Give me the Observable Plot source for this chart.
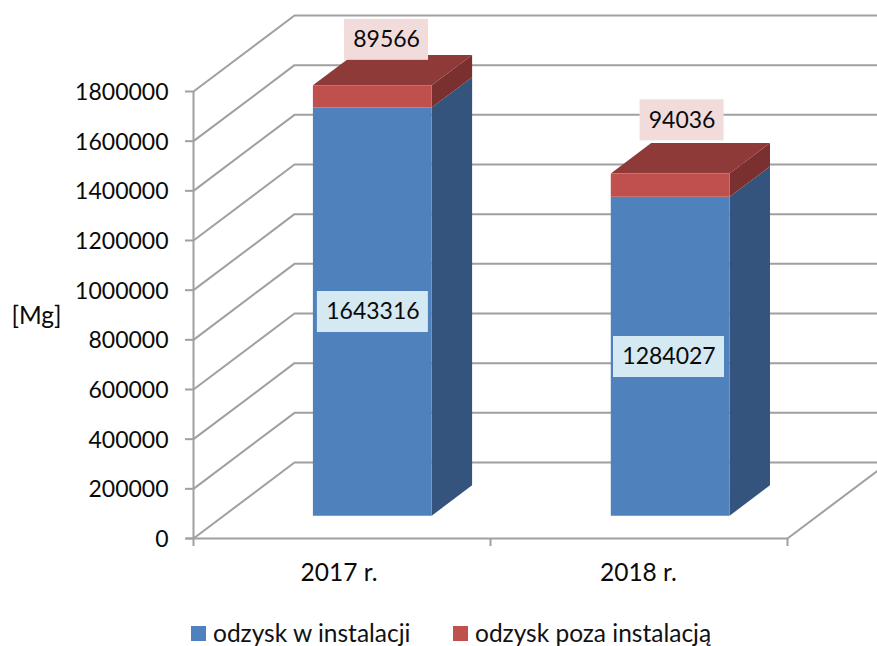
<!DOCTYPE html>
<html><head><meta charset="utf-8">
<script src="https://cdn.jsdelivr.net/npm/d3@7"></script>
<script src="https://cdn.jsdelivr.net/npm/@observablehq/plot@0.6"></script>
<style>
html,body{margin:0;padding:0;background:#fff;overflow:hidden}
#chart svg{display:block;background:#fff}
#legend{position:relative;height:36px;font:24.5px Lato,sans-serif;color:#111}
#legend span{position:absolute;white-space:nowrap}
#legend i{position:absolute;width:15px;height:15px;display:block}
</style></head><body>
<div id="chart"></div><div id="legend"></div>
<script>
const categories = ["2017 r.", "2018 r."];
const categoryCentres = [0.49, 1.498];
const seriesNames = ["odzysk w instalacji", "odzysk poza instalacją"];
const recovered = [1643316, 1284027];
const outside = [89566, 94036];
const yTicks = [0,200000,400000,600000,800000,1000000,1200000,1400000,1600000,1800000];
const barCentres = [0.5, 1.503];
const barHalf = 0.2;
const depthU = 101/297, depthV = 76/447*1800000;
const dFront = 0.3, dBack = 0.7;
const P = (u, v, d) => ({x: u + d*depthU, y: v + d*depthV});

const grid = [];
yTicks.forEach((t,i) => {
  grid.push({...P(0,t,0), id:"w"+i}, {...P(0,t,1), id:"w"+i}, {...P(2.4,t,1), id:"w"+i});
});
grid.push({...P(2,0,0), id:"f"}, {...P(2,0,1), id:"f"});

const faces = [];
const face = (id, fill, pts) => pts.forEach(p => faces.push({...p, id, fill}));
categories.forEach((c,i) => {
  const a = barCentres[i]-barHalf, b = barCentres[i]+barHalf;
  const v1 = recovered[i], v2 = v1 + outside[i];
  face(c+"sb", "#34547d", [P(b,0,dFront),P(b,0,dBack),P(b,v1,dBack),P(b,v1,dFront)]);
  face(c+"sr", "#7a302e", [P(b,v1,dFront),P(b,v1,dBack),P(b,v2,dBack),P(b,v2,dFront)]);
  face(c+"t",  "#8e3a38", [P(a,v2,dFront),P(a,v2,dBack),P(b,v2,dBack),P(b,v2,dFront)]);
  face(c+"fb", "#4f81bd", [P(a,0,dFront),P(b,0,dFront),P(b,v1,dFront),P(a,v1,dFront)]);
  face(c+"fr", "#c0504d", [P(a,v1,dFront),P(b,v1,dFront),P(b,v2,dFront),P(a,v2,dFront)]);
});

const xPer = 1/297, yPer = 1800000/447;
const labels = [
  {t:recovered[0], u:0.604, v:912000, w:111, fill:"#d5e9f3"},
  {t:recovered[1], u:1.601, v:730800, w:111, fill:"#d5e9f3"},
  {t:outside[0], u:0.65, v:2008000, w:84, fill:"#f2dcdb"},
  {t:outside[1], u:1.645, v:1684000, w:84, fill:"#f2dcdb"}
];
const H = 0.5*41*yPer;

document.getElementById("chart").append(Plot.plot({
  width: 877, height: 610,
  marginLeft: 193, marginRight: 90, marginTop: 91, marginBottom: 72,
  x: {domain:[0,2], axis:null},
  y: {domain:[0,1800000], axis:null},
  style: {fontFamily:"Lato, sans-serif", fontSize:"23px", color:"#0a0a0a"},
  marks: [
    Plot.line(grid, {x:"x", y:"y", z:"id", stroke:"#a0a0a0", strokeWidth:2}),
    Plot.ruleX([0], {stroke:"#a0a0a0", strokeWidth:2}),
    Plot.ruleY([0], {stroke:"#a0a0a0", strokeWidth:2, insetLeft:-7}),
    Plot.axisY({ticks:yTicks, text:null, tickSize:8, stroke:"#a0a0a0", strokeWidth:2, label:null}),
    Plot.axisY({ticks:yTicks, tickFormat:d=>String(d), tickSize:0, tickPadding:25, dy:1, label:null, fill:"#0a0a0a", fontSize:23}),
    Plot.axisX({ticks:[0,1,2], tickFormat:()=>"", tickSize:8, stroke:"#a0a0a0", strokeWidth:2, label:null}),
    Plot.text(categories, {x:(d,i)=>categoryCentres[i], y:0, text:d=>d, dy:35, fill:"#0a0a0a", fontSize:24.5}),
    Plot.text(["[Mg]"], {frameAnchor:"left", y:894000, dx:-182, text:d=>d, fill:"#0a0a0a", fontSize:24.5}),
    Plot.line(faces, {x:"x", y:"y", z:"id", fill:"fill", stroke:"none", curve:"linear-closed"}),
    Plot.rect(labels, {x1:d=>d.u-d.w*xPer/2, x2:d=>d.u+d.w*xPer/2, y1:d=>d.v-H, y2:d=>d.v+H, fill:"fill"}),
    Plot.text(labels, {x:"u", y:"v", text:d=>String(d.t), fill:"#0a0a0a"})
  ]
}));
const leg = document.getElementById("legend");
[[191,213,"#4f81bd"],[453,475,"#c0504d"]].forEach(([sx,tx,col],i)=>{
  const sw=document.createElement("i"); sw.style.cssText=`left:${sx}px;top:16px;background:${col}`; leg.append(sw);
  const s=document.createElement("span"); s.textContent=seriesNames[i]; s.style.cssText=`left:${tx}px;top:8px`; leg.append(s);
});
</script></body></html>
